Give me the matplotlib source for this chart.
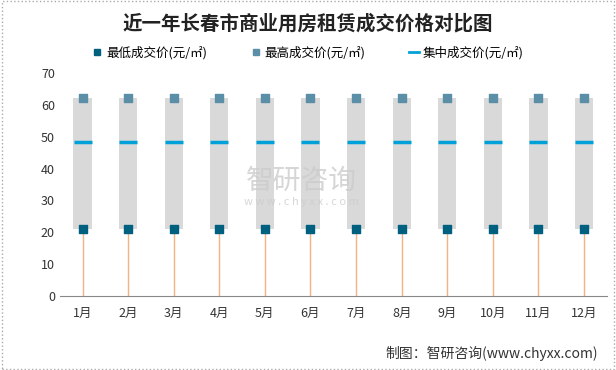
import numpy as np
import matplotlib.pyplot as plt

plt.rcParams['font.family'] = ['Noto Sans CJK SC', 'DejaVu Sans']

months = ['1月', '2月', '3月', '4月', '5月', '6月', '7月', '8月', '9月', '10月', '11月', '12月']
low = [21] * 12
high = [62] * 12
mid = [48.3] * 12

x = np.arange(len(months))

fig = plt.figure(figsize=(6.16, 3.7), dpi=100)
ax = fig.add_axes([0.097, 0.2, 0.888, 0.603])

# grey range bars
ax.bar(x, np.array(high) - np.array(low), bottom=low, width=0.4, color='#d9d9d9', zorder=1)
# drop lines
ax.vlines(x, 0, low, color='#f4b183', lw=1, zorder=2)
ax.scatter(x, low, marker='s', s=32, color='#00607f', zorder=3)
ax.scatter(x, high, marker='s', s=32, color='#5b8fa8', zorder=3)
ax.scatter(x, mid, marker='_', s=170, linewidths=2.5, color='#00a0d8', zorder=3)

ax.set_xlim(-0.5, 11.5)
ax.set_ylim(0, 70)
ax.set_yticks(range(0, 71, 10))
ax.set_xticks(x)
ax.set_xticklabels(months)
for s in ['left', 'right', 'top']:
    ax.spines[s].set_visible(False)
ax.spines['bottom'].set_color('#888888')
ax.tick_params(axis='both', length=0, labelsize=9, colors='#333333')
ax.tick_params(axis='x', pad=8)

# legend
h1 = plt.Line2D([], [], marker='s', ls='', color='#00607f', markersize=5)
h2 = plt.Line2D([], [], marker='s', ls='', color='#5b8fa8', markersize=5)
h3 = plt.Line2D([], [], color='#00a0d8', lw=2)
fig.legend([h1, h2, h3], ['最低成交价(元/㎡)', '最高成交价(元/㎡)', '集中成交价(元/㎡)'],
           loc='center', bbox_to_anchor=(0.5, 0.858), ncol=3, frameon=False,
           fontsize=9, handlelength=0.8, handletextpad=0.3, columnspacing=3.5)

fig.text(0.5, 0.935, '近一年长春市商业用房租赁成交价格对比图', ha='center', va='center',
         fontsize=14, fontweight='bold', color='#222222')

# watermark
fig.text(0.49, 0.51, '智研咨询', ha='center', va='center', fontsize=20, color='#cccccc', alpha=0.8)
fig.text(0.49, 0.455, 'w w w . c h y x x . c o m', ha='center', va='center', fontsize=8, color='#cccccc', alpha=0.8)

fig.text(0.97, 0.045, '制图：智研咨询(www.chyxx.com)', ha='right', va='center', fontsize=10, color='#333333')

# outer border
fig.patches.append(plt.Rectangle((0.003, 0.003), 0.994, 0.994, transform=fig.transFigure,
                                 fill=False, edgecolor='#aaaaaa', lw=1, ls=':'))

fig.savefig('out.png', dpi=100)
